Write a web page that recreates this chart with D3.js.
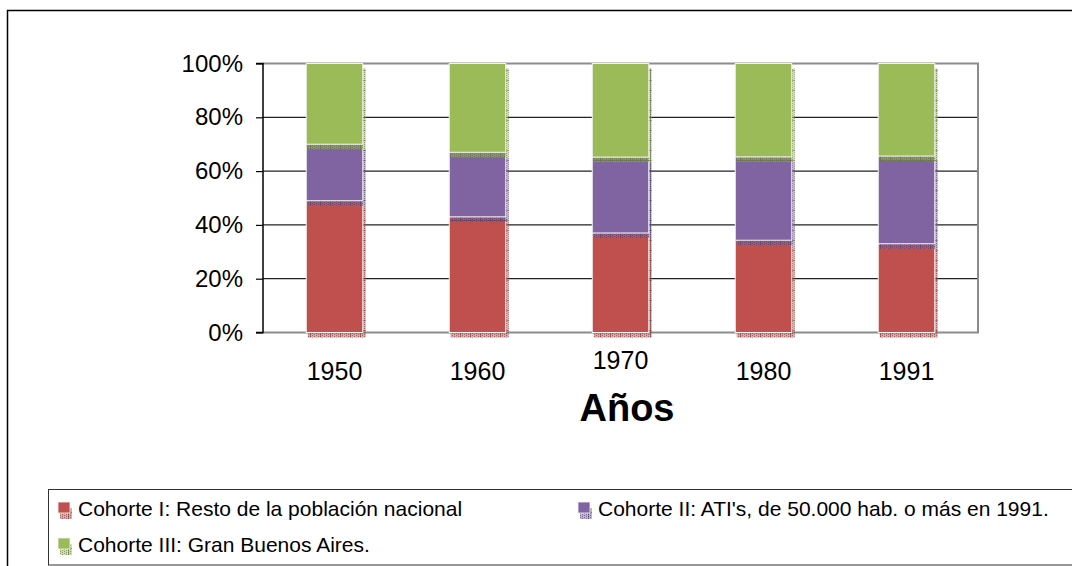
<!DOCTYPE html>
<html>
<head>
<meta charset="utf-8">
<script src="https://cdn.jsdelivr.net/npm/d3@7"></script>
<style>
  html, body { margin: 0; padding: 0; background: #fff; }
  svg { display: block; font-family: "Liberation Sans", Arial, sans-serif; }
</style>
</head>
<body>
<svg id="chart" width="1072" height="566"></svg>
<script>
// ---- data ----
const years = ["1950", "1960", "1970", "1980", "1991"];
const cohorteI = [49, 43, 37, 34.3, 33];
const cohorteII = [21, 24, 28.2, 31, 32.6];
const cohorteIII = [30, 33, 34.8, 34.7, 34.4];
const seriesNames = [
  "Cohorte I: Resto de la población nacional",
  "Cohorte II: ATI's, de 50.000 hab. o más en 1991.",
  "Cohorte III: Gran Buenos Aires."
];
const seriesColors = ["#c0504d", "#8064a2", "#9bbb59"];
const yTicks = [0, 0.2, 0.4, 0.6, 0.8, 1];
const axisTitle = "Años";

// ---- layout ----
const svg = d3.select("#chart");
const pLeft = 263, pRight = 978, pTop = 63.5, pBottom = 332.5;

const x = d3.scaleBand().domain(years).range([pLeft, pRight]).paddingInner(0.605).paddingOuter(0.3025);
const y = d3.scaleLinear().domain([0, 1]).range([pBottom, pTop]);

// outer border
svg.append("rect").attr("x", 7.5).attr("y", 10.5).attr("width", 1080).attr("height", 580)
  .attr("fill", "none").attr("stroke", "#000").attr("stroke-width", 1.5);

// patterns for shadows
const defs = svg.append("defs");
const shadowDark = ["#7a3a38", "#4e3d66", "#5e6e3a"];
seriesColors.forEach((c, i) => {
  const p = defs.append("pattern").attr("id", "sh" + i).attr("patternUnits", "userSpaceOnUse")
    .attr("width", 10).attr("height", 10);
  p.append("rect").attr("width", 10).attr("height", 10).attr("fill", c).attr("opacity", 0.5);
  for (let a = 0; a < 10; a += 2) {
    for (let b = (a / 2) % 2; b < 10; b += 2) {
      p.append("rect").attr("x", a).attr("y", b).attr("width", 1).attr("height", 1)
        .attr("fill", shadowDark[i]).attr("opacity", 0.6);
    }
  }
  p.append("rect").attr("x", 0).attr("y", 0).attr("width", 1).attr("height", 10).attr("fill", shadowDark[i]).attr("opacity", 0.55);
  p.append("rect").attr("x", 0).attr("y", 0).attr("width", 10).attr("height", 1).attr("fill", shadowDark[i]).attr("opacity", 0.55);
});

// gridlines
svg.append("g").selectAll("line").data(yTicks.filter(t => t > 0 && t < 1)).join("line")
  .attr("x1", pLeft).attr("x2", pRight).attr("y1", d => y(d)).attr("y2", d => y(d))
  .attr("stroke", "#222").attr("stroke-width", 1.2);

// plot frame (top, right, bottom gray)
svg.append("path")
  .attr("d", `M${pLeft},${y(1)}H${pRight}V${y(0)}H${pLeft}`)
  .attr("fill", "none").attr("stroke", "#8c8c8c").attr("stroke-width", 2);

// stacked data
const rows = years.map((yr, i) => ({ year: yr, s0: cohorteI[i], s1: cohorteII[i], s2: cohorteIII[i] }));
const stack = d3.stack().keys(["s0", "s1", "s2"]).offset(d3.stackOffsetExpand);
const layers = stack(rows);

layers.forEach((layer, si) => {
  const g = svg.append("g");
  g.selectAll("rect.sh").data(layer).join("rect").attr("class", "sh")
    .attr("x", d => x(d.data.year) + 1.5)
    .attr("y", d => y(d[1]) + 5)
    .attr("width", x.bandwidth() + 1.5)
    .attr("height", d => y(d[0]) - y(d[1]))
    .attr("fill", "url(#sh" + si + ")");
  g.selectAll("rect.bar").data(layer).join("rect").attr("class", "bar")
    .attr("x", d => x(d.data.year))
    .attr("y", d => y(d[1]))
    .attr("width", x.bandwidth())
    .attr("height", d => y(d[0]) - y(d[1]))
    .attr("fill", seriesColors[si])
    .attr("stroke", "#f2f2f2").attr("stroke-width", 1);
});

// y axis
const yAxis = d3.axisLeft(y).tickValues(yTicks).tickFormat(d3.format(".0%")).tickSize(7).tickPadding(13);
const ya = svg.append("g").attr("transform", `translate(${pLeft},0)`).call(yAxis);
ya.select(".domain").attr("stroke", "#000").attr("stroke-width", 1.5).attr("d", `M-7,${y(1)}H0V${y(0)}H-7`);
ya.selectAll(".tick line").attr("stroke", "#000").attr("stroke-width", 1.2);
ya.selectAll(".tick text").attr("font-size", 24).attr("fill", "#000")
  .attr("font-family", "'Liberation Sans', Arial, sans-serif");

// x labels
svg.append("g").selectAll("text").data(years).join("text")
  .attr("x", d => x(d) + x.bandwidth() / 2)
  .attr("y", (d, i) => i === 2 ? 369 : 380)
  .attr("text-anchor", "middle").attr("font-size", 25).attr("fill", "#000")
  .text(d => d);

// axis title
svg.append("text").attr("x", 627).attr("y", 421).attr("text-anchor", "middle")
  .attr("font-size", 38).attr("font-weight", "bold").attr("fill", "#000").text(axisTitle);

// legend
svg.append("rect").attr("x", 48.5).attr("y", 489.5).attr("width", 1040).attr("height", 75.5)
  .attr("fill", "none").attr("stroke", "#333").attr("stroke-width", 1);

const legendPos = [[58, 502], [578, 502], [58, 538]];
seriesNames.forEach((name, i) => {
  const [lx, ly] = legendPos[i];
  const g = svg.append("g").attr("transform", `translate(${lx},${ly})`);
  g.append("rect").attr("x", 2).attr("y", 6).attr("width", 12).attr("height", 11).attr("fill", "url(#sh" + i + ")");
  g.append("rect").attr("x", 0).attr("y", 0).attr("width", 12).attr("height", 11)
    .attr("fill", seriesColors[i]).attr("stroke", "#f2f2f2").attr("stroke-width", 0.8);
  g.append("text").attr("x", 20).attr("y", 13.5).attr("font-size", 21).attr("fill", "#000").text(name);
});
</script>
</body>
</html>
